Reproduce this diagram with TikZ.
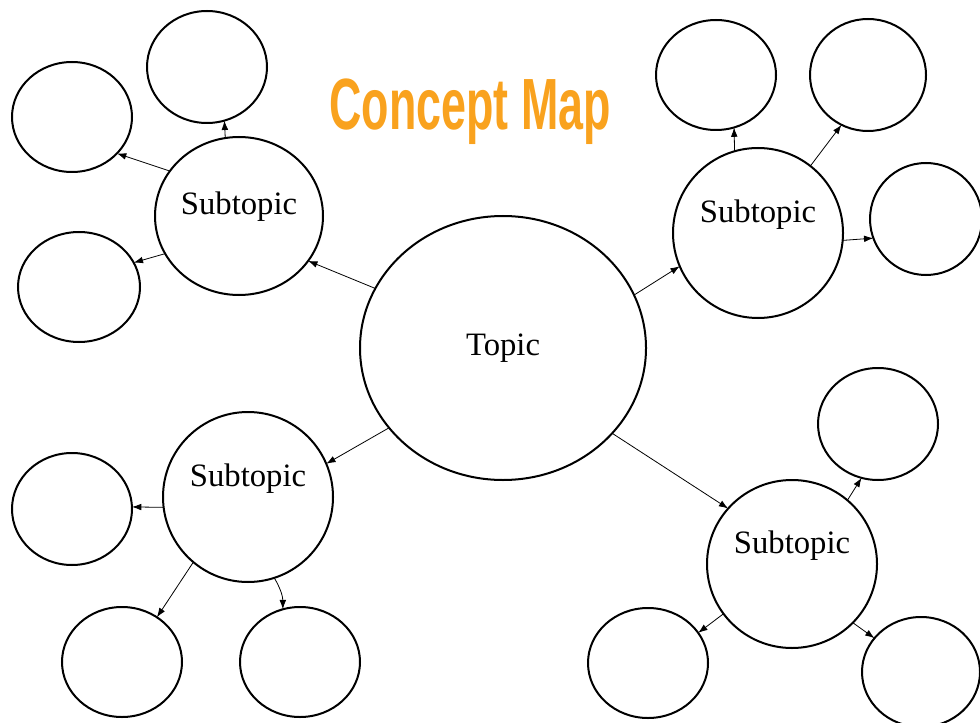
\documentclass[tikz,border=0pt]{standalone}
\usepackage{fontspec}
\setmainfont{Liberation Serif}
\newfontfamily\titlefont{Liberation Sans}
\usetikzlibrary{shapes.geometric,arrows.meta}

\definecolor{titleorange}{HTML}{F9A21E}

\tikzset{
  bubble/.style 2 args={ellipse, draw, line width=1.5pt, inner sep=0pt, outer sep=0pt,
    minimum width=#1*1.5pt, minimum height=#2*1.5pt},
  caption/.style={font=\fontsize{24.5}{28}\selectfont},
  sublabel/.style={label={[caption, yshift=#1]center:Subtopic}},
  link/.style={-{Latex[length=7pt,width=5pt]}, line width=0.6pt},
  heading/.style={text=titleorange, inner sep=0pt, outer sep=0pt}
}

\begin{document}
\begin{tikzpicture}[x=0.75pt, y=-0.75pt]
\useasboundingbox (0,0) rectangle (980,723);

% heading
\node[heading] (title) at (470,112)
  {\resizebox{211pt}{38pt}{\titlefont\bfseries Concept Map}};

% central topic
\node[bubble={143}{132}, caption] (topic) at (503,348) {Topic};

% subtopics
\node[bubble={84}{79}, sublabel=7pt]  (tl) at (239,216) {};
\node[bubble={85}{85}, sublabel=14pt] (tr) at (758,233) {};
\node[bubble={85}{85}, sublabel=14pt] (bl) at (248,497) {};
\node[bubble={85}{84}, sublabel=14pt] (br) at (792,564) {};

% details
\node[bubble={60}{56}] (tlA) at (207,67)  {};
\node[bubble={60}{55}] (tlB) at (72,117)  {};
\node[bubble={61}{55}] (tlC) at (79,287)  {};
\node[bubble={60}{55}] (trA) at (716,75)  {};
\node[bubble={58}{56}] (trB) at (868,75)  {};
\node[bubble={56}{56}] (trC) at (926,219) {};
\node[bubble={60}{56}] (blA) at (72,509)  {};
\node[bubble={60}{55}] (blB) at (122,662) {};
\node[bubble={60}{55}] (blC) at (300,662) {};
\node[bubble={60}{56}] (brA) at (878,424) {};
\node[bubble={60}{55}] (brB) at (648,663) {};
\node[bubble={59}{55}] (brC) at (921,672) {};

% topic to subtopics
\draw[link] (topic.155) -- (tl.-33);
\draw[link] (topic.22)  -- (tr.203);
\draw[link] (topic.215) -- (bl.23);
\draw[link] (topic.-38) -- (br.139);

% subtopics to details
\draw[link] (tl.100) -- (tlA.-72);
\draw[link] (tl.147) -- (tlB.-39);
\draw[link] (tl.207) -- (tlC.24);

\draw[link] (tr.106) -- (trA.-71);
\draw[link] (tr.52)  -- (trB.242);
\draw[link] (tr.-5)  -- (trC.200);

\draw[link] (bl.187) -- (blA.2);
\draw[link] (bl.230) -- (blB.52);
\draw[link] (bl.-72) to[bend left=15] (blC.108);

\draw[link] (br.49)  -- (brA.-107);
\draw[link] (br.216) -- (brB.31);
\draw[link] (br.-44) -- (brC.144);
\end{tikzpicture}
\end{document}
